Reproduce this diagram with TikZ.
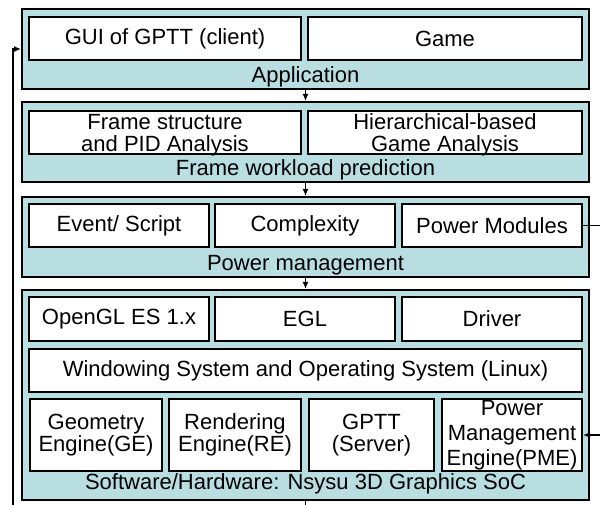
\documentclass[tikz,border=0pt]{standalone}
\usepackage{fontspec}
\setmainfont{Liberation Sans}
\usetikzlibrary{arrows.meta}
\definecolor{layerfill}{RGB}{184,222,226}

\begin{document}
\begin{tikzpicture}[x=1pt,y=-1pt,
    font=\fontsize{22}{22}\selectfont,
    layer/.style={draw,fill=layerfill,line width=2pt,minimum width=567,inner sep=0pt},
    blk/.style={draw,fill=white,line width=2pt,inner sep=0pt,align=center},
    conn/.style={line width=1.5pt},
    >={Latex[length=7pt,width=6pt]}]
    \useasboundingbox (0,0) rectangle (600,505);

    % application
    \node[layer,minimum height=80] (app) at (305.5,49) {};
    \node[blk,minimum width=272,minimum height=43] (gui) at (165,38.5) {GUI of GPTT (client)};
    \node[blk,minimum width=274,minimum height=43] (game) at (445,38.5) {Game};
    \node[anchor=base] (applbl) at (305.5,83) {Application};

    % frame workload prediction
    \node[layer,minimum height=80] (fwp) at (305.5,142) {};
    \node[blk,minimum width=272,minimum height=43,text depth=-3pt] (fsa) at (165,132.5) {Frame structure\\and PID Analysis};
    \node[blk,minimum width=274,minimum height=43,text depth=-3pt] (hga) at (445,132.5) {Hierarchical-based\\Game Analysis};
    \node[anchor=base] (fwplbl) at (305.5,176) {Frame workload prediction};

    % power management
    \node[layer,minimum height=80] (pm) at (305.5,237) {};
    \node[blk,minimum width=180,minimum height=43] (evt) at (119,225.5) {Event/ Script};
    \node[blk,minimum width=180,minimum height=43] (cplx) at (305,225.5) {Complexity};
    \node[blk,minimum width=180,minimum height=43] (pmod) at (492,225.5) {Power Modules};
    \node[anchor=base] (pmlbl) at (305.5,271) {Power management};

    % software/hardware
    \node[layer,minimum height=210] (soc) at (305.5,395) {};
    \node[blk,minimum width=180,minimum height=44] (ogl) at (119,319) {OpenGL ES 1.x};
    \node[blk,minimum width=180,minimum height=44] (egl) at (305,319) {EGL};
    \node[blk,minimum width=180,minimum height=44] (drv) at (492,319) {Driver};
    \node[blk,minimum width=553,minimum height=43] (wsos) at (305.5,370.5) {Windowing System and Operating System (Linux)};
    \node[blk,minimum width=132,minimum height=72] (ge) at (96,435) {Geometry\\Engine(GE)};
    \node[blk,minimum width=132,minimum height=72] (re) at (235,435) {Rendering\\Engine(RE)};
    \node[blk,minimum width=125,minimum height=72] (srv) at (371.5,435) {GPTT\\(Server)};
    \node[blk,minimum width=140,minimum height=72] (pme) at (512,435) {Power\\[3pt]Management\\[3pt]Engine(PME)};
    \node[anchor=base] (soclbl) at (305.5,489) {Software/Hardware: Nsysu 3D Graphics SoC};

    % connectors
    \coordinate (lbot) at (13,505);
    \coordinate (cbot) at (305.5,505);
    \coordinate (rtop) at (600,225.5);
    \coordinate (rbot) at (600,435);
    \draw[conn,->] (app) -- (fwp);
    \draw[conn,->] (fwp) -- (pm);
    \draw[conn,->] (pm) -- (soc);
    \draw[conn] (soc) -- (cbot);
    \draw[conn,->] (lbot) |- (app.west);
    \draw[conn] (pmod.east) -- (rtop);
    \draw[conn,->] (rbot) -- (pme.east);
\end{tikzpicture}
\end{document}
